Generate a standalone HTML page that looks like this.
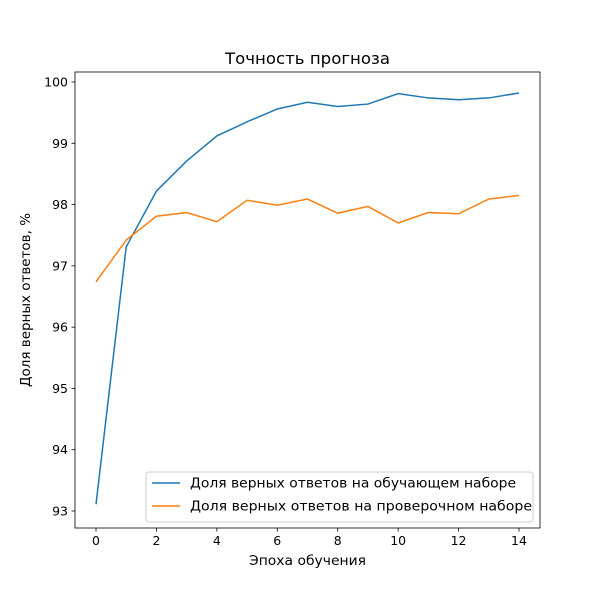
<!DOCTYPE html>
<html><head><meta charset="utf-8"><style>body{margin:0;background:#fff}svg{font-family:"DejaVu Sans","Liberation Sans",sans-serif}</style></head>
<body>
<svg id="c" width="600" height="600" xmlns="http://www.w3.org/2000/svg"></svg>
<script>
const epochs=[0,1,2,3,4,5,6,7,8,9,10,11,12,13,14];
const trainAcc=[93.11,97.31,98.22,98.71,99.12,99.35,99.56,99.67,99.6,99.64,99.81,99.74,99.71,99.74,99.82];
const valAcc=[96.74,97.42,97.81,97.87,97.72,98.07,97.99,98.09,97.86,97.97,97.7,97.87,97.85,98.09,98.15];
const xTicks=[0,2,4,6,8,10,12,14];
const yTicks=[93,94,95,96,97,98,99,100];
const svg=document.getElementById('c');const NS='http://www.w3.org/2000/svg';
const L=75,R=540,T=72,B=528;
const x=v=>96+v*(519-96)/14;
const y=v=>511-(v-93)*(511-82)/7;
function el(t,a,txt,p){const e=document.createElementNS(NS,t);for(const k in a)e.setAttribute(k,a[k]);if(txt!=null)e.textContent=txt;(p||svg).appendChild(e);return e;}
let e;
e=el('rect',{x:L,y:T,width:R-L,height:B-T,fill:'none',stroke:'#000','stroke-width':0.8});

xTicks.forEach(t=>{el('line',{x1:x(t),x2:x(t),y1:B,y2:B+3.5,stroke:'#000','stroke-width':0.8});
e=el('text',{x:x(t),y:B+17,'text-anchor':'middle','font-size':12.5},t);
});
yTicks.forEach(t=>{el('line',{x1:L-3.5,x2:L,y1:y(t),y2:y(t),stroke:'#000','stroke-width':0.8});
e=el('text',{x:L-7,y:y(t)+4.5,'text-anchor':'end','font-size':12.5},t);
});
function line(d,c,n){e=el('polyline',{points:d.map((v,i)=>x(epochs[i])+','+y(v)).join(' '),fill:'none',stroke:c,'stroke-width':1.5});
}
line(trainAcc,'#1f77b4','train-line');line(valAcc,'#ff7f0e','val-line');
e=el('text',{x:225,y:64,'font-size':16,textLength:165,lengthAdjust:'spacingAndGlyphs'},'Точность прогноза');

e=el('text',{x:249,y:565,'font-size':13.5,textLength:117,lengthAdjust:'spacingAndGlyphs'},'Эпоха обучения');

e=el('text',{x:0,y:0,'text-anchor':'middle','font-size':13.5,textLength:174,lengthAdjust:'spacingAndGlyphs',transform:'translate(30,300) rotate(-90)'},'Доля верных ответов, %');

const g=el('g',{});
el('rect',{x:146,y:472,width:387,height:50,rx:3,fill:'#fff','fill-opacity':0.8,stroke:'#ccc'},null,g);
[['Доля верных ответов на обучающем наборе','#1f77b4',483,326],['Доля верных ответов на проверочном наборе','#ff7f0e',506,342]].forEach(([t,c,yy,w])=>{
el('line',{x1:152,x2:180,y1:yy,y2:yy,stroke:c,'stroke-width':1.5},null,g);
e=el('text',{x:190,y:yy+4.5,'font-size':13.5,textLength:w,lengthAdjust:'spacingAndGlyphs'},t,g);
});
</script>
</body></html>
